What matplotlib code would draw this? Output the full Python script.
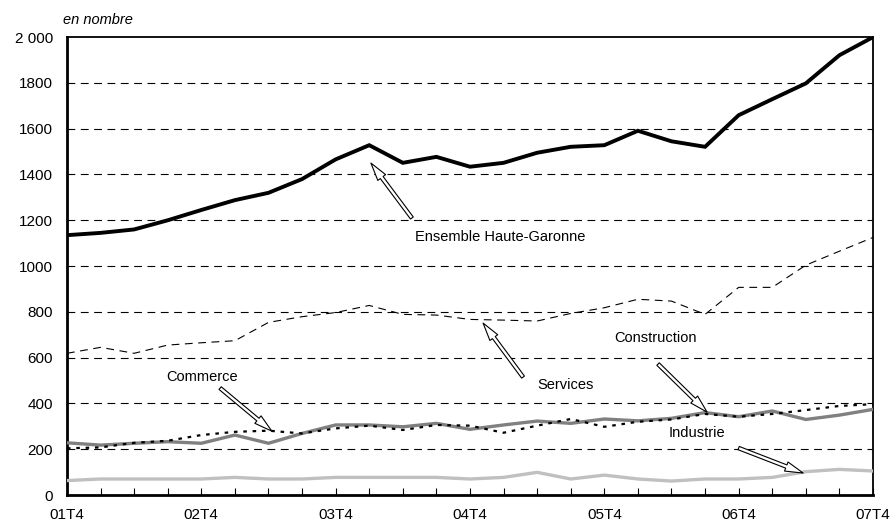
import numpy as np
import matplotlib
matplotlib.use("Agg")
import matplotlib.pyplot as plt

plt.rcParams['font.family'] = ['Liberation Sans', 'DejaVu Sans']

# ----
# DATA
# ----
quarters = ['01T4', '02T1', '02T2', '02T3', '02T4', '03T1', '03T2', '03T3', '03T4',
            '04T1', '04T2', '04T3', '04T4', '05T1', '05T2', '05T3', '05T4',
            '06T1', '06T2', '06T3', '06T4', '07T1', '07T2', '07T3', '07T4']
tick_labels = ['01T4', '02T4', '03T4', '04T4', '05T4', '06T4', '07T4']

ensemble = [1135, 1145, 1160, 1200, 1245, 1288, 1320, 1380, 1466, 1528, 1451, 1477,
            1434, 1451, 1495, 1521, 1528, 1591, 1545, 1521, 1659, 1729, 1798, 1921, 2000]
services = [619, 645, 619, 655, 665, 674, 754, 779, 797, 828, 789, 786,
            767, 764, 760, 793, 818, 855, 847, 789, 907, 907, 1004, 1065, 1125]
construction = [228, 218, 226, 233, 226, 262, 226, 269, 306, 306, 298, 313,
                287, 306, 323, 313, 332, 324, 335, 360, 342, 367, 330, 349, 374]
commerce = [204, 208, 228, 237, 262, 276, 281, 269, 291, 303, 284, 306,
            303, 272, 303, 332, 298, 320, 330, 354, 342, 354, 371, 389, 397]
industrie = [63, 70, 70, 70, 70, 77, 70, 70, 77, 77, 77, 77,
             70, 77, 99, 70, 87, 70, 61, 70, 70, 77, 102, 112, 105]

x = np.arange(len(quarters))

# ----
# Plot
# ----
fig = plt.figure(figsize=(8.93, 5.23), dpi=100)
ax = fig.add_axes([0.075, 0.0535, 0.9026, 0.8755])

ax.plot(x, industrie, color='#c0c0c0', lw=2.4, solid_joinstyle='miter', zorder=3)
ax.plot(x, construction, color='#808080', lw=2.4, solid_joinstyle='miter', zorder=3)
ax.plot(x, commerce, color='black', lw=1.6, linestyle=(0, (1.6, 2.6)), zorder=4)
ax.plot(x, services, color='black', lw=0.8, linestyle=(0, (7, 5)), zorder=3)
ax.plot(x, ensemble, color='black', lw=2.8, solid_joinstyle='miter', zorder=5)

ax.set_xlim(0, len(quarters) - 1)
ax.set_ylim(0, 2000)

# grid
for v in range(200, 2000, 200):
    ax.axhline(v, color='black', lw=0.8, linestyle=(0, (7, 5)), zorder=1)

ax.set_yticks(range(0, 2001, 200))
ax.set_yticklabels([str(v) for v in range(0, 2000, 200)] + ['2 000'])
ax.tick_params(axis='y', length=0, labelsize=11, pad=10)

ax.set_xticks(x, minor=True)
ax.set_xticks(x[::4])
ax.set_xticklabels(tick_labels)
ax.tick_params(axis='x', which='both', direction='in', length=5, width=0.8,
               labelsize=11, pad=9)

for side in ['left', 'bottom']:
    ax.spines[side].set_linewidth(2)
for side in ['top', 'right']:
    ax.spines[side].set_linewidth(1.3)

fig.text(0.071, 0.962, 'en nombre', style='italic', fontsize=10.5, ha='left', va='center')

# annotations with block arrows
arrow = dict(arrowstyle='simple,head_length=1.3,head_width=0.7,tail_width=0.25',
             fc='white', ec='black', lw=0.8, shrinkA=0, shrinkB=0)
notes = [
    ('Ensemble Haute-Garonne', (10.36, 1127), (10.27, 1210), (9.05, 1450)),
    ('Services', (14.0, 480), (13.58, 515), (12.39, 751)),
    ('Construction', (16.29, 686), (17.6, 572), (19.06, 362)),
    ('Industrie', (17.9, 271), (20.0, 205), (21.92, 96)),
    ('Commerce', (2.95, 515), (4.56, 467), (6.1, 279)),
]
for label, txt_pos, tail, tip in notes:
    ax.text(txt_pos[0], txt_pos[1], label, fontsize=10.5, ha='left', va='center', zorder=6)
    ax.annotate('', xy=tip, xytext=tail, arrowprops=arrow, zorder=6)

fig.savefig('out.png', dpi=100)
